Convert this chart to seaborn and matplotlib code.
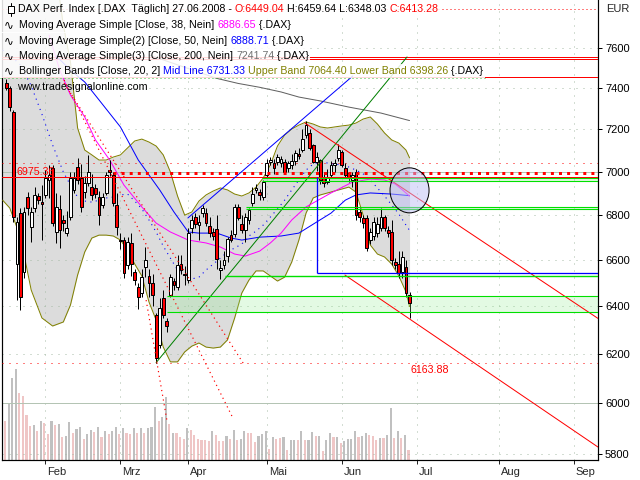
import numpy as np
import pandas as pd
import matplotlib
matplotlib.use("Agg")
import matplotlib.pyplot as plt
import seaborn as sns
from matplotlib.patches import Rectangle, Ellipse
from matplotlib.lines import Line2D
from matplotlib.transforms import ScaledTranslation
from matplotlib.ticker import FixedLocator, FixedFormatter, NullLocator
from matplotlib import font_manager

# ------------------------------------------------------------------ data
opens = [7425, 7400, 7283, 6582, 6809, 6547, 6882, 6746, 6832, 6886,
         6860, 6891, 6960, 7016, 6724, 6827, 6778, 6720, 6791, 6915,
         7021, 6970, 6905, 6947, 6928, 6925, 6882, 6846, 6900, 7007,
         6984, 6846, 6690, 6688, 6578, 6675, 6547, 6482, 6456, 6569,
         6530, 6499, 6362, 6237, 6435, 6336, 6447, 6508, 6482, 6582,
         6540, 6512, 6742, 6790, 6755, 6810, 6809, 6751, 6725, 6737,
         6555, 6580, 6618, 6710, 6715, 6836, 6760, 6733, 6778, 6855,
         6915, 6905, 6882, 6984, 7045, 7040, 7045, 7040, 7045, 7016,
         7030, 7050, 7080, 7101, 7172, 7182, 7125, 7045, 7054, 6975,
         6950, 6984, 7030, 7063, 7092, 7016, 6993, 6960, 6998, 6814,
         6787, 6787, 6688, 6706, 6720, 6742, 6791, 6735, 6724, 6590,
         6582, 6547, 6569, 6449.04]
highs = [7445, 7410, 7293, 6790, 6830, 6835, 6905, 6836, 6930, 6900,
         6937, 7007, 7030, 7030, 6900, 6891, 6800, 6818, 7000, 7000,
         7063, 7035, 6980, 7077, 6990, 6940, 6910, 6900, 7000, 7054,
         7000, 6900, 6720, 6700, 6700, 6720, 6560, 6500, 6560, 6657,
         6560, 6540, 6370, 6435, 6470, 6350, 6540, 6520, 6622, 6620,
         6575, 6742, 6800, 6810, 6800, 6845, 6830, 6790, 6740, 6800,
         6600, 6640, 6700, 6733, 6850, 6850, 6800, 6810, 6830, 6930,
         6940, 6920, 6960, 7060, 7070, 7060, 7080, 7075, 7060, 7050,
         7080, 7100, 7110, 7200, 7240, 7200, 7130, 7092, 7060, 7000,
         7010, 7050, 7060, 7130, 7100, 7040, 7000, 7000, 7010, 6830,
         6800, 6800, 6740, 6790, 6790, 6830, 6800, 6750, 6780, 6610,
         6640, 6640, 6600, 6459.64]
lows = [7390, 7290, 6770, 6426, 6384, 6520, 6800, 6679, 6815, 6850,
        6688, 6880, 6880, 6750, 6675, 6652, 6730, 6706, 6780, 6900,
        6940, 6813, 6880, 6935, 6870, 6880, 6755, 6830, 6890, 6980,
        6840, 6710, 6650, 6520, 6560, 6530, 6490, 6390, 6440, 6525,
        6440, 6400, 6164, 6225, 6350, 6290, 6440, 6470, 6470, 6540,
        6490, 6500, 6720, 6740, 6688, 6790, 6750, 6700, 6690, 6560,
        6516, 6560, 6590, 6680, 6700, 6780, 6720, 6680, 6760, 6840,
        6900, 6870, 6870, 6970, 7030, 6990, 7030, 7020, 6990, 7000,
        7010, 7030, 7060, 7090, 7160, 7100, 7040, 7003, 6940, 6930,
        6940, 6970, 7000, 7050, 7020, 6970, 6950, 6930, 6780, 6770,
        6740, 6640, 6670, 6690, 6700, 6730, 6730, 6700, 6580, 6560,
        6520, 6520, 6440, 6348.03]
closes = [7400, 7307, 6790, 6769, 6439, 6813, 6832, 6813, 6891, 6868,
          6850, 6970, 6985, 6764, 6836, 6733, 6764, 6742, 6970, 6970,
          6961, 6836, 6947, 6998, 6891, 6896, 6800, 6882, 6984, 6998,
          6855, 6746, 6685, 6543, 6679, 6582, 6512, 6440, 6525, 6600,
          6499, 6447, 6182, 6392, 6362, 6315, 6525, 6490, 6578, 6556,
          6534, 6720, 6778, 6760, 6770, 6830, 6764, 6720, 6705, 6604,
          6565, 6600, 6693, 6688, 6836, 6787, 6733, 6791, 6823, 6896,
          6925, 6891, 6952, 7040, 7054, 7016, 7068, 7060, 6998, 7040,
          7050, 7085, 7075, 7154, 7222, 7111, 7045, 7068, 6961, 6947,
          6970, 7030, 7040, 7101, 7030, 6984, 6975, 6985, 6800, 6791,
          6764, 6653, 6724, 6769, 6760, 6791, 6742, 6720, 6600, 6578,
          6543, 6613, 6456, 6413.28]

volume = [39, 57, 82, 91, 67, 64, 45, 34, 35, 29,
          39, 37, 26, 39, 35, 36, 23, 24, 38, 27,
          31, 33, 21, 26, 30, 28, 33, 23, 29, 26,
          29, 33, 26, 32, 27, 26, 32, 27, 32, 27,
          32, 33, 53, 39, 43, 63, 36, 27, 27, 23,
          21, 32, 30, 25, 21, 20, 20, 19, 29, 25,
          19, 19, 24, 21, 30, 20, 21, 29, 27, 27,
          18, 24, 26, 29, 11, 23, 21, 22, 23, 10,
          20, 20, 20, 29, 20, 20, 28, 24, 24, 9,
          20, 27, 23, 23, 17, 19, 21, 21, 29, 23,
          24, 27, 25, 24, 20, 22, 22, 25, 52, 22,
          29, 22, 25, 10]
volume_flag = ("pgggppppgp" "gppgpgpggp" "ggpggpgpgp" "ggpgppgpgp" "gggpggpgpp"
               "pgpppppp" "gpppgpgpgg" "pppgggpgpp" "gpggpgpggp" "gpggpgpggg"
               "gpggpppgpg" "gpgpgp")

months = ["Feb", "Mrz", "Apr", "Mai", "Jun", "Jul", "Aug", "Sep"]
month_pos = [11, 32, 51, 73, 94, 115, 138, 159]
price_ticks = [5800, 6000, 6200, 6400, 6600, 6800, 7000, 7200, 7400, 7600]

# Bollinger bands (20, 2)
band_idx = [-1, 1, 4, 7, 10, 13, 16, 18, 20, 22, 24, 26, 28, 30, 32, 34, 36, 38, 40, 42,
            44, 46, 48, 50, 52, 54, 56, 58, 60, 62, 64, 66, 68, 70, 72, 74, 76, 78, 80, 82,
            84, 86, 88, 90, 92, 94, 96, 98, 100, 102, 104, 106, 108, 110, 112, 113]
bb_upper = [8276, 8332, 8443, 8443, 8332, 8112, 7717, 7530, 7206, 7101,
            7078, 7054, 7054, 7068, 7078, 7111, 7144, 7153, 7139, 7120,
            7078, 6998, 6887, 6800, 6814, 6864, 6892, 6910, 6924, 6915,
            6896, 6887, 6901, 6928, 6970, 7031, 7120, 7172, 7201, 7220,
            7235, 7225, 7211, 7206, 7211, 7216, 7220, 7230, 7249, 7259,
            7225, 7182, 7149, 7134, 7101, 7064.40]
bb_lower = [6868, 6832, 6701, 6469, 6350, 6316, 6333, 6405, 6534, 6635,
            6697, 6710, 6710, 6706, 6688, 6644, 6582, 6530, 6418, 6341,
            6228, 6167, 6167, 6208, 6232, 6245, 6228, 6224, 6228, 6258,
            6350, 6456, 6512, 6552, 6552, 6530, 6508, 6525, 6591, 6688,
            6809, 6878, 6892, 6901, 6910, 6919, 6928, 6905, 6800, 6666,
            6626, 6613, 6582, 6530, 6461, 6398.26]
bb_mid = [7590, 7565, 7515, 7411, 7273, 7125, 6998, 6937, 6882, 6864,
          6859, 6868, 6878, 6882, 6892, 6896, 6864, 6828, 6778, 6724,
          6661, 6608, 6556, 6530, 6517, 6525, 6556, 6582, 6608, 6635,
          6653, 6670, 6706, 6728, 6755, 6791, 6828, 6868, 6915, 6961,
          7007, 7035, 7045, 7040, 7035, 7031, 7021, 7007, 6989, 6961,
          6924, 6887, 6846, 6805, 6755, 6731.33]

ma38_idx = [12, 15, 18, 22, 25, 29, 33, 38, 42, 46, 51, 56, 60, 64, 67, 71, 74, 77,
            80, 84, 91, 97, 102, 106, 109, 111, 113]
ma38 = [7666, 7489, 7366, 7259, 7149, 7054, 6937, 6837, 6764, 6724, 6688, 6675, 6657,
        6626, 6617, 6639, 6675, 6719, 6778, 6837, 6901, 6951, 6965, 6961, 6942, 6915, 6886.65]
ma50_idx = [14, 18, 22, 26, 32, 37, 43, 47, 51, 54, 59, 63, 66, 71, 77, 82, 87, 91,
            95, 98, 102, 108, 113]
ma50 = [7560, 7489, 7430, 7342, 7211, 7054, 6915, 6814, 6724, 6719, 6719, 6697, 6688,
        6701, 6706, 6719, 6769, 6809, 6868, 6892, 6901, 6896, 6888.71]
ma200_idx = [40, 59, 65, 71, 77, 82, 88, 96, 105, 113]
ma200 = [7565, 7448, 7423, 7404, 7381, 7356, 7337, 7307, 7278, 7241.74]

# drawn objects (index, price)
level_hi = 6975.36
level_lo = 6163.88
red_solid_levels = [7556, 7546, 7453]
red_dot_levels = [7800, 7040]
gray_levels = [7000, 6000]
thick_dot_level, thick_dot_start = 6993, 30
green_box1 = (71.7, 6958, 6970)
green_box2 = (67.2, 6829, 6838)
green_line3 = (61.3, 6530)
green_box4 = (45.0, 6374, 6443)
blue_box = (87.1, 6543, 6975.36)
trend_green = ([42, 112.3], [6163.88, 7555])
trend_blue = ([50.9, 97.1], [6787, 7460])
trend_red_a = ([83.7, 165.8], [7230, 6348])
trend_red_b = ([94.9, 165.8], [6534, 5827])
red_dotted_a = ([16.2, 63.5], [7440, 5941])
red_dotted_b = ([16.2, 66.9], [7425, 6150])
red_dotted_c = ([39.2, 45.0], [6426, 5933])
circle_center = (113, 6913)

# ------------------------------------------------------------------ style
sns.set_theme(style="ticks")
avail = {f.name for f in font_manager.fontManager.ttflist}
main_font = "Liberation Sans" if "Liberation Sans" in avail else "DejaVu Sans"
plt.rcParams["font.family"] = [main_font, "DejaVu Sans"]

W, H = 640, 480
PX = 0.72  # one pixel in points
fig = plt.figure(figsize=(6.4, 4.8), dpi=100)
fig.patch.set_facecolor("white")
ax = fig.add_axes([2 / W, 20 / H, 596 / W, 460 / H])
ax2 = ax.twinx()
ax.set_zorder(ax2.get_zorder() + 1)
ax.patch.set_visible(False)

XMIN, XMAX = -1.18, 165.8
idx = np.arange(len(closes))

# volume
vcol = ["#c0c0c0" if f == "g" else "#efc6c6" for f in volume_flag]
vol_df = pd.DataFrame({"i": idx - 0.3, "v": volume, "c": vcol})
ax2.bar(vol_df["i"], vol_df["v"], width=0.6, color=list(vol_df["c"]), linewidth=0)
ax2.set_ylim(0, 460)
ax2.axis("off")

ax.set_yscale("log")
ax.set_xlim(XMIN, XMAX)
ax.set_ylim(5777, 7847)

# Bollinger fill and lines
ax.fill_between(band_idx, bb_lower, bb_upper, color="#dcdcdc", linewidth=0, zorder=1)
bb = pd.DataFrame({"i": band_idx, "up": bb_upper, "lo": bb_lower, "mid": bb_mid})
sns.lineplot(data=bb, x="i", y="up", ax=ax, color="#808000", lw=PX, zorder=3)
sns.lineplot(data=bb, x="i", y="lo", ax=ax, color="#808000", lw=PX, zorder=3)
sns.lineplot(data=bb, x="i", y="mid", ax=ax, color="#0000ff", lw=1.1 * PX,
             linestyle=(0, (1, 4)), zorder=3)

# horizontal levels
for p in gray_levels:
    ax.axhline(p, color="#b4c4b4", lw=PX, zorder=2)
for p in red_solid_levels:
    ax.axhline(p, color="#ff0000", lw=PX, zorder=3)
ax.axhline(red_dot_levels[0], color="#ff0000", lw=PX, linestyle=(0, (1, 3)), zorder=3)
ax.axhline(red_dot_levels[1], color="#ff0000", lw=PX, linestyle=(0, (1, 6)), zorder=3)
ax.axhline(level_lo, color="#ff0000", lw=PX, linestyle=(0, (1, 6)), zorder=3)
ax.hlines(thick_dot_level, thick_dot_start, XMAX, color="#ff0000", lw=3 * PX,
          linestyle=(0, (1, 1.7)), zorder=7)
ax.axhline(level_hi, color="#ff0000", lw=PX, zorder=7)

# green zones
for (x0, lo, hi) in [green_box1, green_box2, green_box4]:
    ax.add_patch(Rectangle((x0, lo), XMAX - x0, hi - lo, facecolor="#90ee90",
                           alpha=0.25, edgecolor="none", zorder=6))
    ax.hlines([lo, hi], x0, XMAX, color="#00e000", lw=1.1 * PX, zorder=8)
ax.hlines(green_line3[1], green_line3[0], XMAX, color="#00e000", lw=1.4 * PX, zorder=8)

# blue box
bx0, blo, bhi = blue_box
ax.hlines(blo, bx0, XMAX, color="#0000ff", lw=1.3 * PX, zorder=8)
ax.vlines(bx0, blo, bhi, color="#0000ff", lw=1.3 * PX, zorder=8)

# moving averages
sns.lineplot(x=ma200_idx, y=ma200, ax=ax, color="#606060", lw=PX, zorder=4)
sns.lineplot(x=ma50_idx, y=ma50, ax=ax, color="#0000ff", lw=PX, zorder=4)
sns.lineplot(x=ma38_idx, y=ma38, ax=ax, color="#ff00ff", lw=PX, zorder=4)

# candles
o = np.array(opens); c = np.array(closes)
up = c >= o
ax.vlines(idx, lows, highs, color="black", lw=PX, zorder=5)
body_bottom = np.minimum(o, c)
body_h = np.maximum(np.abs(c - o), 2.0)
ax.bar(idx, body_h, bottom=body_bottom, width=0.78,
       color=np.where(up, "white", "#ff0000"), edgecolor="black", linewidth=PX, zorder=6)

# trend lines
ax.plot(*trend_green, color="#008000", lw=PX, zorder=7)
ax.plot(*trend_blue, color="#0000ff", lw=PX, zorder=7)
ax.plot(*trend_red_a, color="#ff0000", lw=PX, zorder=7)
ax.plot(*trend_red_b, color="#ff0000", lw=PX, zorder=7)
for line in (red_dotted_a, red_dotted_b, red_dotted_c):
    ax.plot(*line, color="#ff0000", lw=1.2 * PX, linestyle=(0, (1, 3)), zorder=7)

# circle
trans = fig.dpi_scale_trans + ScaledTranslation(circle_center[0], circle_center[1], ax.transData)
ax.add_patch(Ellipse((0, 0), 0.39, 0.45, transform=trans, facecolor=(0.75, 0.75, 0.97, 0.5),
                     edgecolor="black", lw=PX, zorder=9))

# level labels
ax.annotate(f"{level_hi:.2f}", xy=(3.0, level_hi), xytext=(0, 5), textcoords="offset pixels",
            color="#ff0000", fontsize=7.7, va="center", ha="left", zorder=10)
ax.annotate(f"{level_lo:.2f}", xy=(113.4, level_lo), xytext=(0, -7), textcoords="offset pixels",
            color="#ff0000", fontsize=7.7, va="center", ha="left", zorder=10)

# axes formatting
ax.yaxis.set_major_locator(FixedLocator(price_ticks))
ax.yaxis.set_major_formatter(FixedFormatter([str(p) for p in price_ticks]))
ax.yaxis.set_minor_locator(NullLocator())
ax.yaxis.tick_right()
ax.yaxis.set_label_position("right")
ax.set_ylabel("")
ax.set_xlabel("")
ax.tick_params(axis="y", which="major", direction="out", length=3, width=PX, pad=2,
               labelsize=8, colors="black", right=True, left=False)
ax.set_xticks(month_pos)
ax.set_xticklabels(months, ha="left")
ax.tick_params(axis="x", direction="out", length=3.2, width=PX, pad=1.5, labelsize=8)
for lab in ax.get_xticklabels():
    lab.set_transform(lab.get_transform() + ScaledTranslation(2 / 100, 0, fig.dpi_scale_trans))
ax.grid(True, which="major", axis="both", color="#a8bca8", linestyle=(0, (1, 6)), linewidth=PX)
ax.set_axisbelow("line")
for s in ["left", "right", "bottom"]:
    ax.spines[s].set_visible(True)
    ax.spines[s].set_color("black")
    ax.spines[s].set_linewidth(1.2 * PX)
ax.spines["top"].set_visible(False)

fig.text(606 / W, 1 - 9 / H, "EUR", fontsize=8, va="center", ha="left")

# ------------------------------------------------------------------ legend rows
rend = fig.canvas.get_renderer()
LFS = 7.7


def put_row(pieces, x_px, yc_px):
    x = x_px
    for s, col in pieces:
        t = fig.text(x / W, 1 - yc_px / H, s, color=col, fontsize=LFS, ha="left",
                     va="center", zorder=21)
        x = t.get_window_extent(renderer=rend).x1
    return x


rows = [
    [("DAX Perf. Index [.DAX  Täglich] 27.06.2008 - ", "black"), (f"O:{opens[-1]:.2f}", "#ff0000"),
     (f" H:{highs[-1]:.2f} L:{lows[-1]:.2f} ", "black"), (f"C:{closes[-1]:.2f}", "#ff0000")],
    [("Moving Average Simple [Close, 38, Nein] ", "black"), (f"{ma38[-1]:.2f}", "#ff00ff"),
     (" {.DAX}", "black")],
    [("Moving Average Simple(2) [Close, 50, Nein] ", "black"), (f"{ma50[-1]:.2f}", "#0000ff"),
     (" {.DAX}", "black")],
    [("Moving Average Simple(3) [Close, 200, Nein] ", "black"), (f"{ma200[-1]:.2f}", "#707070"),
     (" {.DAX}", "black")],
    [("Bollinger Bands [Close, 20, 2] ", "black"), (f"Mid Line {bb_mid[-1]:.2f}", "#0000ff"),
     (f" Upper Band {bb_upper[-1]:.2f} Lower Band {bb_lower[-1]:.2f}", "#808000"),
     (" {.DAX}", "black")],
]
row_centers = [9.5, 25, 40.5, 56, 71]
row_bounds = [(0, 17), (17, 32.5), (32.5, 48), (48, 63.5), (63.5, 77.5)]
for k, (pieces, yc, (y0, y1)) in enumerate(zip(rows, row_centers, row_bounds)):
    x_start = 18 if k == 0 else 19
    xend = put_row(pieces, x_start, yc)
    fig.add_artist(Rectangle((0, 1 - y1 / H), (xend + 1) / W, (y1 - y0) / H,
                             transform=fig.transFigure, facecolor="white", alpha=0.85,
                             edgecolor="none", zorder=20))
    if k > 0:
        fig.text(4 / W, 1 - yc / H, "\u223f", fontsize=8.5, ha="left", va="center",
                 color="black", zorder=21, family="DejaVu Sans")
    if k == 4:
        fig.add_artist(Line2D([0, (xend + 1) / W], [1 - 77.5 / H] * 2, transform=fig.transFigure,
                              color="#40c040", lw=PX, linestyle=(0, (1, 3)), zorder=21))

# candle icon of first row
fig.add_artist(Line2D([10.5 / W] * 2, [1 - 3 / H, 1 - 16 / H], transform=fig.transFigure,
                      color="black", lw=PX, zorder=22))
fig.add_artist(Rectangle((7.5 / W, 1 - 13 / H), 6 / W, 7 / H, transform=fig.transFigure,
                         facecolor="white", edgecolor="black", lw=PX, zorder=22))

fig.text(17 / W, 1 - 87 / H, "www.tradesignalonline.com", fontsize=LFS, ha="left",
         va="center", color="black", zorder=21)

fig.savefig("out.png", dpi=100)
